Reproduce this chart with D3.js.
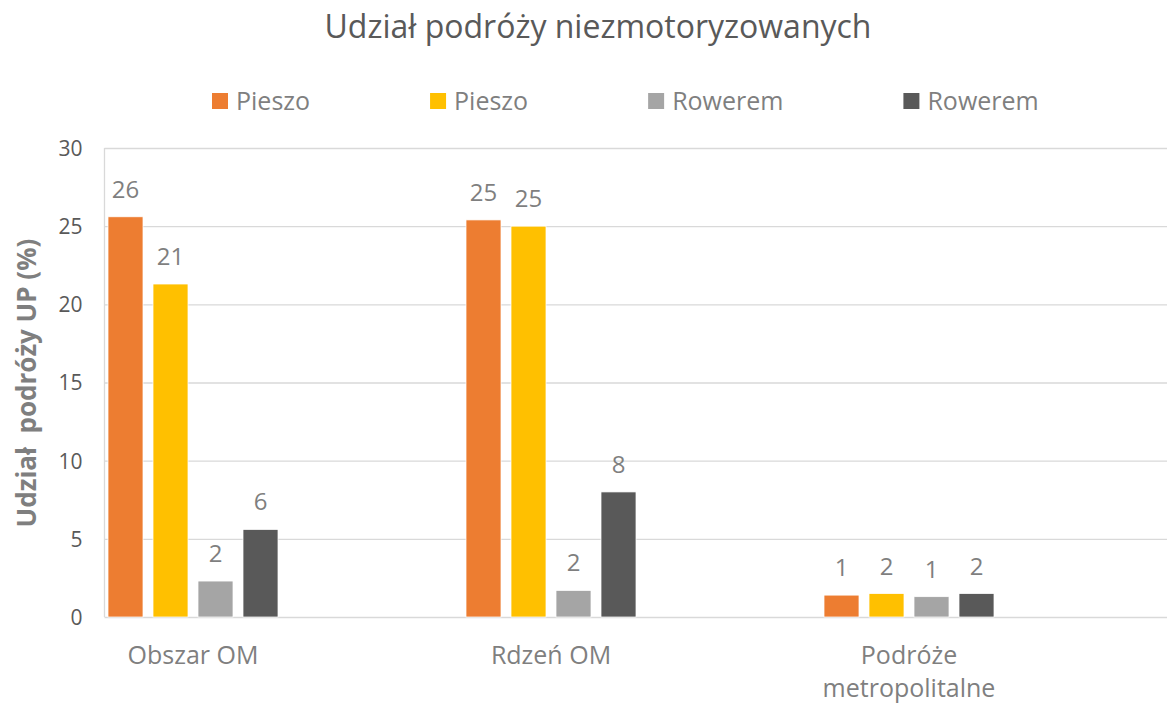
<!DOCTYPE html>
<html>
<head>
<meta charset="utf-8">
<script src="https://cdn.jsdelivr.net/npm/d3@7"></script>
<style>
  body { margin: 0; background: #fff; }
  svg, svg text { font-family: "Open Sans", sans-serif; }
</style>
</head>
<body>
<svg id="chart" width="1167" height="704"></svg>
<script>
// Data
const categories = ['Obszar OM', 'Rdzeń OM', 'Podróże metropolitalne'];
const seriesNames = ['Pieszo', 'Pieszo', 'Rowerem', 'Rowerem'];
const seriesKeys = ['walk1', 'walk2', 'bike1', 'bike2'];
const seriesColors = ['#ED7D31', '#FFC000', '#A5A5A5', '#595959'];
const walk1 = [25.6, 25.4, 1.4];
const walk2 = [21.3, 25.0, 1.5];
const bike1 = [2.3, 1.7, 1.3];
const bike2 = [5.6, 8.0, 1.5];
const yTicks = [0, 5, 10, 15, 20, 25, 30];

const values = { walk1, walk2, bike1, bike2 };

const svg = d3.select('#chart');
const margin = { left: 104.5, top: 148, bottom: 87 };
const width = 1167, height = 704;
const plotBottom = height - margin.bottom; // 617

const y = d3.scaleLinear().domain([0, 30]).range([plotBottom, margin.top]);

const x0 = d3.scaleBand()
  .domain(categories)
  .range([margin.left, margin.left + 3 * 358])
  .paddingInner(0).paddingOuter(0);

const x1 = d3.scaleBand()
  .domain(seriesKeys)
  .range([3.5, 173.5])
  .paddingInner(10 / 45)
  .paddingOuter(0);

// Gridlines
const yAxis = d3.axisLeft(y).tickValues(yTicks).tickSize(-(width - margin.left)).tickPadding(22);
const yAxisG = svg.append('g')
  .attr('transform', `translate(${margin.left},0)`)
  .call(yAxis)
  .attr('font-family', null)
  .attr('font-size', null);
yAxisG.select('.domain').remove();
yAxisG.selectAll('.tick line').attr('stroke', '#d9d9d9').attr('stroke-width', 1.3);
yAxisG.selectAll('.tick text')
  .attr('fill', '#595959')
  .style('font-size', '21px')
  .attr('dy', '0.35em');

// Left axis line
svg.append('line')
  .attr('x1', margin.left).attr('x2', margin.left)
  .attr('y1', margin.top).attr('y2', plotBottom)
  .attr('stroke', '#d9d9d9').attr('stroke-width', 1.3);

// Bars
const groups = svg.selectAll('.group')
  .data(categories)
  .enter().append('g')
    .attr('class', 'group')
    .attr('transform', d => `translate(${x0(d)},0)`);

groups.selectAll('rect')
  .data((c, i) => seriesKeys.map((k, j) => ({ key: k, value: values[k][i], color: seriesColors[j] })))
  .enter().append('rect')
    .attr('x', d => x1(d.key))
    .attr('width', x1.bandwidth())
    .attr('y', d => y(d.value))
    .attr('height', d => y(0) - y(d.value))
    .attr('fill', d => d.color)
    .attr('stroke', '#fff')
    .attr('stroke-width', 0.75);

groups.selectAll('.bar-label')
  .data((c, i) => seriesKeys.map(k => ({ key: k, value: values[k][i] })))
  .enter().append('text')
    .attr('class', 'bar-label')
    .attr('x', d => x1(d.key) + x1.bandwidth() / 2)
    .attr('y', d => y(d.value) - 19)
    .attr('text-anchor', 'middle')
    .attr('fill', '#7f7f7f')
    .style('font-size', '24px')
    .text(d => d3.format('.0f')(d.value));

// Category labels
const catG = svg.append('g');
categories.forEach(c => {
  const cx = x0(c) + 88.5;
  const words = c === 'Podróże metropolitalne' ? ['Podróże', 'metropolitalne'] : [c];
  words.forEach((w, i) => {
    catG.append('text')
      .attr('x', cx)
      .attr('y', 664 + i * 33)
      .attr('text-anchor', 'middle')
      .attr('fill', '#7f7f7f')
      .style('font-size', '25px')
      .text(w);
  });
});

// Title
svg.append('text')
  .attr('x', 598)
  .attr('y', 38)
  .attr('text-anchor', 'middle')
  .attr('fill', '#595959')
  .style('font-size', '32px')
  .text('Udział podróży niezmotoryzowanych');

// Y axis title
svg.append('text')
  .attr('transform', `translate(36,383) rotate(-90)`)
  .attr('text-anchor', 'middle')
  .attr('fill', '#7f7f7f')
  .style('font-size', '26px')
  .style('font-weight', 'bold')
  .attr('xml:space', 'preserve')
  .text('Udział  podróży UP (%)');

// Legend
const legend = svg.append('g');
let lx = 212;
seriesNames.forEach((name, i) => {
  legend.append('rect')
    .attr('x', lx).attr('y', 93)
    .attr('width', 16).attr('height', 16)
    .attr('fill', seriesColors[i]);
  const t = legend.append('text')
    .attr('x', lx + 24).attr('y', 110)
    .attr('fill', '#7f7f7f')
    .style('font-size', '25px')
    .text(name);
  lx += 24 + t.node().getComputedTextLength() + 120;
});
</script>
</body>
</html>
